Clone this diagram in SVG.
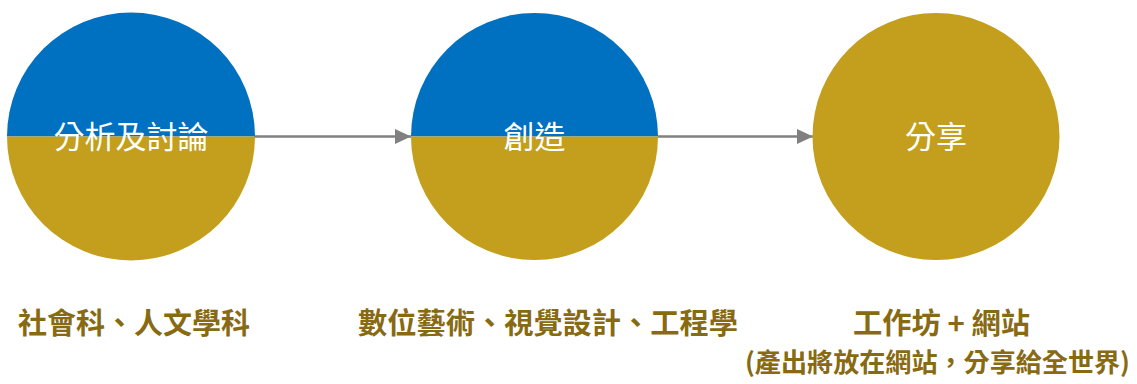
<svg xmlns="http://www.w3.org/2000/svg" width="1137" height="384" viewBox="0 0 1137 384">
<defs>
<style>
.top{fill:#0070C0}
.bot{fill:#C39F1D}
.lbl{font-family:"Noto Sans CJK TC","Noto Sans CJK SC",sans-serif;font-size:31px;fill:#FFFFFF;text-anchor:middle}
.cap{font-family:"Noto Sans CJK TC","Noto Sans CJK SC",sans-serif;font-size:29px;font-weight:bold;fill:#876A12}
.conn{stroke:#808080;stroke-width:2.5;fill:none}
</style>
<marker id="ah" markerWidth="16" markerHeight="15" refX="16" refY="7.5" orient="auto" markerUnits="userSpaceOnUse">
<path d="M0,0 L16,7.5 L0,15 Z" fill="#808080"/>
</marker>
</defs>
<rect width="1137" height="384" fill="#FFFFFF"/>
<g id="connectors">
<line class="conn" x1="254" y1="136.5" x2="411" y2="136.5" marker-end="url(#ah)"/>
<line class="conn" x1="658" y1="136.5" x2="813" y2="136.5" marker-end="url(#ah)"/>
</g>
<g id="node1">
<path class="top" d="M7,136.5 A124,124 0 0 1 255,136.5 Z"/>
<path class="bot" d="M7,136.5 A124,124 0 0 0 255,136.5 Z"/>
<text class="lbl" x="131" y="148">分析及討論</text>
</g>
<g id="node2">
<path class="top" d="M411,136.5 A123.5,123.5 0 0 1 658,136.5 Z"/>
<path class="bot" d="M411,136.5 A123.5,123.5 0 0 0 658,136.5 Z"/>
<text class="lbl" x="534.5" y="148">創造</text>
</g>
<g id="node3">
<circle class="bot" cx="936" cy="136.5" r="123.5"/>
<text class="lbl" x="936" y="148">分享</text>
</g>
<g id="captions">
<text class="cap" x="18" y="334" textLength="232" lengthAdjust="spacingAndGlyphs">社會科、人文學科</text>
<text class="cap" x="358" y="334" textLength="380" lengthAdjust="spacingAndGlyphs">數位藝術、視覺設計、工程學</text>
<text class="cap" x="853" y="334" textLength="177" lengthAdjust="spacingAndGlyphs">工作坊 + 網站</text>
<text class="cap" x="745" y="372" style="font-size:26px" textLength="385" lengthAdjust="spacingAndGlyphs">(產出將放在網站，分享給全世界)</text>
</g>
</svg>
